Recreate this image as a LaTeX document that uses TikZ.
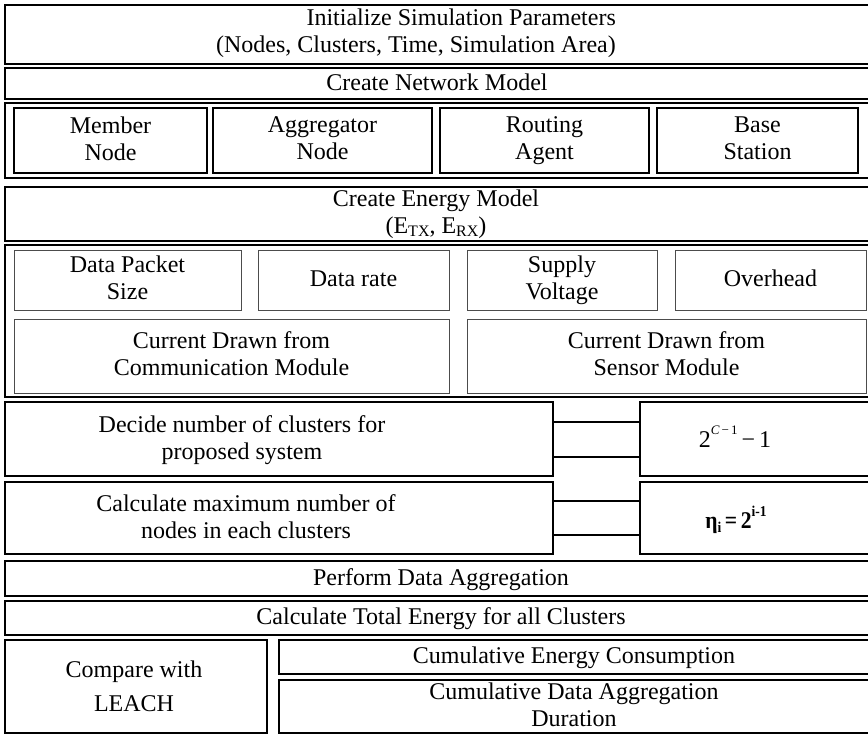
\documentclass[tikz,border=0pt]{standalone}
\usepackage{fontspec}
\setmainfont{Liberation Serif}
\usetikzlibrary{fit}

% lowered subscript for the energy terms
\newcommand{\lowsub}[1]{\raisebox{-0.3ex}{\fontsize{16}{16}\selectfont #1}}
% fixed line height and depth so every label is centred the same way
\newcommand{\linestrut}{\rule[-4pt]{0pt}{22pt}}

\tikzset{
  txt/.style={font=\fontsize{24}{27}\selectfont, align=center, inner sep=0pt,
              execute at begin node=\linestrut, execute at end node=\linestrut},
  obox/.style={draw=black, line width=1.8pt, inner sep=0pt},
  ibox/.style={draw=black!70, line width=0.9pt, inner sep=0pt},
  link/.style={draw=black, line width=1.8pt},
}

\begin{document}
\begin{tikzpicture}[x=1pt, y=-1pt]
\useasboundingbox (0,0) rectangle (868,735);

% initialisation and network model
\node[obox, fit={(5,5) (869,64)}] (init) {};
\node[txt, anchor=east, align=right] (initT) at (616,33)
  {Initialize Simulation Parameters\\(Nodes, Clusters, Time, Simulation Area)};
\node[obox, fit={(5,68) (869,99)}] (net) {};
\node[txt] (netT) at (net) {Create Network Model};

\node[obox, fit={(5,103) (869,178)}] (netrow) {};
\node[obox, fit={(14,108) (207,173)}] (member) {};
\node[txt] (memberT) at (member) {Member\\Node};
\node[obox, fit={(213,108) (432,173)}] (aggr) {};
\node[txt] (aggrT) at (aggr) {Aggregator\\Node};
\node[obox, fit={(440,108) (649,173)}] (route) {};
\node[txt] (routeT) at (route) {Routing\\Agent};
\node[obox, fit={(657,108) (858,173)}] (base) {};
\node[txt] (baseT) at (base) {Base\\Station};

% energy model and its parameters
\node[obox, fit={(5,187) (869,241)}] (energy) {};
\node[txt] (energyT) at (436,214) {Create Energy Model\\(E\lowsub{TX}, E\lowsub{RX})};

\node[obox, fit={(5,245) (869,397)}] (params) {};
\node[ibox, fit={(14,250) (241,310)}] (pkt) {};
\node[txt] (pktT) at (pkt) {Data Packet\\Size};
\node[ibox, fit={(258,250) (449,310)}] (rate) {};
\node[txt] (rateT) at (rate) {Data rate};
\node[ibox, fit={(467,250) (657,310)}] (volt) {};
\node[txt] (voltT) at (volt) {Supply\\Voltage};
\node[ibox, fit={(675,250) (866,310)}] (ovh) {};
\node[txt] (ovhT) at (ovh) {Overhead};
\node[ibox, fit={(14,319) (449,393)}] (ccomm) {};
\node[txt] (ccommT) at (ccomm) {Current Drawn from\\Communication Module};
\node[ibox, fit={(467,319) (866,393)}] (csens) {};
\node[txt] (csensT) at (csens) {Current Drawn from\\Sensor Module};

% cluster sizing
\node[obox, fit={(5,402) (553,476)}] (decide) {};
\node[txt] (decideT) at (242,440) {Decide number of clusters for\\proposed system};
\node[obox, fit={(640,402) (869,476)}] (fA) {};
\node[txt] (fAT) at (735,439)
  {2\raisebox{1.15ex}{\fontsize{13}{13}\selectfont\textit{C}\,−\,1}\,−\,1};

\node[obox, fit={(5,482) (553,554)}] (calcmax) {};
\node[txt] (calcmaxT) at (246,519) {Calculate maximum number of\\nodes in each clusters};
\node[obox, fit={(640,482) (869,554)}] (fB) {};
\node[txt, font=\fontsize{24}{27}\selectfont\bfseries] (fBT) at (736,520)
  {\scalebox{0.9}[1]{η\raisebox{-0.3ex}{\fontsize{15}{15}\selectfont i}\,=\,2\raisebox{1.15ex}{\fontsize{15}{15}\selectfont i-1}}};

\draw[link] ([yshift=17pt]decide.east) -- ([yshift=17pt]fA.west);
\draw[link] ([yshift=-18pt]decide.east) -- ([yshift=-18pt]fA.west);
\draw[link] ([yshift=17pt]calcmax.east) -- ([yshift=17pt]fB.west);
\draw[link] ([yshift=-17pt]calcmax.east) -- ([yshift=-17pt]fB.west);

% aggregation and evaluation
\node[obox, fit={(5,561) (869,596)}] (perform) {};
\node[txt] (performT) at (441,579) {Perform Data Aggregation};
\node[obox, fit={(5,601) (869,635)}] (total) {};
\node[txt] (totalT) at (441,618) {Calculate Total Energy for all Clusters};

\node[obox, fit={(5,640) (267,733)}] (compare) {};
\node[txt] (compareT) at (134,688) {Compare with\\[7pt]LEACH};
\node[obox, fit={(279,640) (869,674)}] (cumE) {};
\node[txt] (cumET) at (cumE) {Cumulative Energy Consumption};
\node[obox, fit={(279,680) (869,733)}] (cumD) {};
\node[txt] (cumDT) at (cumD) {Cumulative Data Aggregation\\Duration};
\end{tikzpicture}
\end{document}
